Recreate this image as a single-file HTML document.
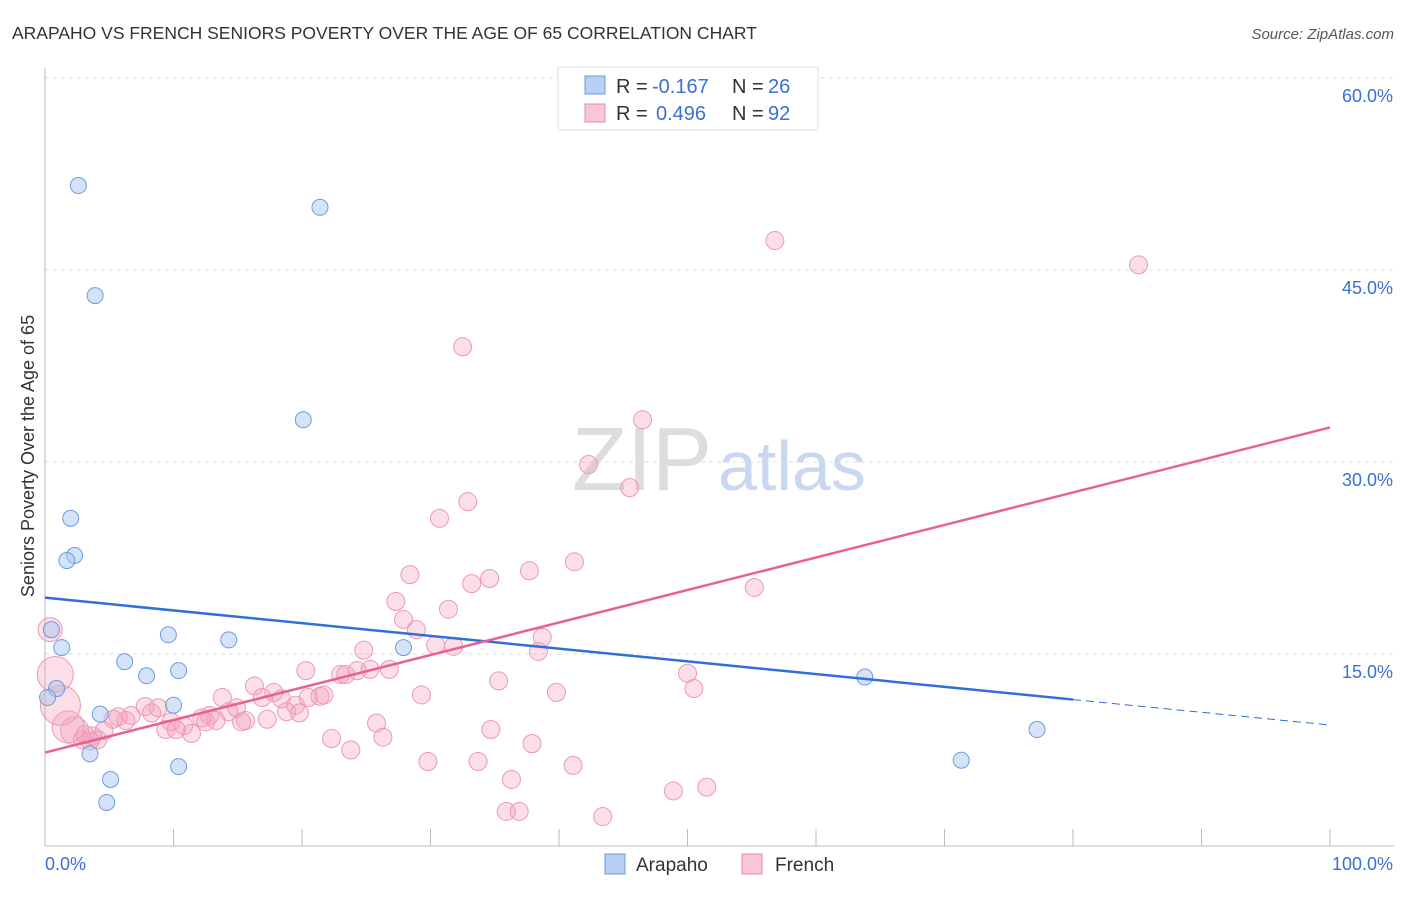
<!DOCTYPE html>
<html><head><meta charset="utf-8"><style>
body{margin:0;background:#fff;font-family:"Liberation Sans",sans-serif;}
svg text{font-family:"Liberation Sans",sans-serif;}
</style></head><body>
<svg id="chart" width="1406" height="892" xmlns="http://www.w3.org/2000/svg">
<text x="12" y="39" font-size="17.5" fill="#333">ARAPAHO VS FRENCH SENIORS POVERTY OVER THE AGE OF 65 CORRELATION CHART</text>
<text x="1394" y="39" font-size="15" fill="#555" text-anchor="end" font-style="italic">Source: ZipAtlas.com</text>
<text x="712" y="490" font-size="90" fill="#ddd" text-anchor="end" font-family="Liberation Serif">ZIP</text>
<text x="718" y="490" font-size="70" fill="#c8d8f0">atlas</text>
<g id="grid"></g><g id="axes"></g><g id="pts"></g><g id="lines"></g>
<text transform="translate(34,456) rotate(-90)" font-size="18" fill="#333" text-anchor="middle">Seniors Poverty Over the Age of 65</text>
<g>
<rect x="558" y="67" width="260" height="63" fill="#fff" stroke="#ddd"/>
<rect x="585" y="76" width="20" height="18" fill="#b7d0f3" stroke="#6e9be0"/>
<rect x="585" y="104" width="20" height="18" fill="#f8c6d6" stroke="#e98aa8"/>
<text x="616" y="93" font-size="20" fill="#333">R =</text>
<text x="652" y="93" font-size="20" fill="#3a6fd8">-0.167</text>
<text x="732" y="93" font-size="20" fill="#333">N =</text>
<text x="768" y="93" font-size="20" fill="#3a6fd8">26</text>
<text x="616" y="120" font-size="20" fill="#333">R =</text>
<text x="656" y="120" font-size="20" fill="#3a6fd8">0.496</text>
<text x="732" y="120" font-size="20" fill="#333">N =</text>
<text x="768" y="120" font-size="20" fill="#3a6fd8">92</text>
</g>
<g>
<rect x="605" y="854" width="20" height="20" fill="#b7d0f3" stroke="#6e9be0"/>
<text x="636" y="871" font-size="19" fill="#333">Arapaho</text>
<rect x="742" y="854" width="20" height="20" fill="#f8c6d6" stroke="#e98aa8"/>
<text x="775" y="871" font-size="19" fill="#333">French</text>
</g>
</svg>
<script>
const yTicks=[15,30,45,60];
const yTickLabels=["15.0%","30.0%","45.0%","60.0%"];
const xTickVals=[0,10,20,30,40,50,60,70,80,90,100];
const arapahoX=[2.6,21.4,3.9,20.1,2.0,2.3,1.7,0.5,1.3,9.6,14.3,6.2,7.9,10.4,27.9,0.9,0.2,4.3,10.0,3.5,5.1,4.8,10.4,63.8,71.3,77.2];
const arapahoY=[51.6,49.9,43.0,33.3,25.6,22.7,22.3,16.9,15.5,16.5,16.1,14.4,13.3,13.7,15.5,12.3,11.6,10.3,11.0,7.2,5.2,3.4,6.2,13.2,6.7,9.1];
const frenchPx=[[775,241],[1138,265],[463,347],[642,420],[589,464],[630,488],[468,502],[439,518],[574,562],[529,571],[410,575],[489,578],[472,584],[448,609],[396,602],[754,588],[403,620],[416,630],[435,645],[542,637],[453,646],[538,652],[364,650],[306,671],[340,675],[346,675],[357,671],[370,669],[389,669],[498,681],[688,673],[694,689],[556,693],[422,695],[255,686],[274,693],[262,697],[282,699],[295,705],[309,697],[320,696],[324,695],[222,697],[236,708],[210,715],[202,718],[229,712],[287,711],[267,719],[300,713],[245,720],[241,722],[216,720],[206,722],[158,708],[145,706],[131,716],[118,717],[126,721],[113,719],[152,713],[171,722],[184,726],[166,729],[191,733],[176,729],[104,731],[92,736],[82,740],[98,740],[75,731],[68,727],[60,705],[55,675],[50,630],[332,738],[351,750],[376,723],[383,737],[491,730],[532,743],[428,762],[478,761],[512,779],[573,765],[506,811],[519,812],[603,816],[673,791],[707,787],[90,741],[85,735]];
const frenchX=frenchPx.map(p=>+((p[0]-45)/12.85).toFixed(1));
const frenchY=frenchPx.map(p=>+((846-p[1])/12.8).toFixed(1));
const frenchSize=frenchX.map((x,i)=>i==72?20:i==73?18:i==71?16:i==70?14:i==74?12:9);
const blueFit=[19.4,9.45];
const pinkFit=[7.3,32.7];
const X=v=>45+v*12.85, Y=v=>846-v*12.8;
const NS="http://www.w3.org/2000/svg";
function mk(p,t,a){const e=document.createElementNS(NS,t);for(const k in a)e.setAttribute(k,a[k]);document.getElementById(p).appendChild(e);return e;}
yTicks.forEach((t,i)=>{
 const l=mk('grid','line',{x1:45,x2:1394,y1:Y(t),y2:Y(t),stroke:'#ddd','stroke-dasharray':'4,4'});
 
 
 const tx=mk('grid','text',{x:1393,y:Y(t)+24,'font-size':18,fill:'#3a6fd8','text-anchor':'end'});
 tx.textContent=yTickLabels[i];
 
 
});
let ax=mk('axes','line',{x1:45,x2:45,y1:68,y2:846,stroke:'#bbb'});


ax=mk('axes','line',{x1:45,x2:1394,y1:846,y2:846,stroke:'#bbb'});


xTickVals.forEach(v=>{const t=mk('axes','line',{x1:X(v),x2:X(v),y1:829,y2:846,stroke:'#bbb'});
 
 });
let xl=mk('axes','text',{x:45,y:870,'font-size':18,fill:'#3a6fd8'});xl.textContent='0.0%';


xl=mk('axes','text',{x:1393,y:870,'font-size':18,fill:'#3a6fd8','text-anchor':'end'});xl.textContent='100.0%';


frenchX.forEach((x,i)=>{const c=mk('pts','circle',{cx:X(x),cy:Y(frenchY[i]),r:frenchSize[i],fill:'rgba(244,160,188,0.35)',stroke:'#eb9ab4','stroke-width':1});
 
 });
arapahoX.forEach((x,i)=>{const c=mk('pts','circle',{cx:X(x),cy:Y(arapahoY[i]),r:8,fill:'rgba(170,200,240,0.5)',stroke:'#6e9be0','stroke-width':1});
 
 });
const bAt=x=>blueFit[0]+(blueFit[1]-blueFit[0])*x/100;
let ln=mk('lines','line',{x1:X(0),y1:Y(bAt(0)),x2:X(80),y2:Y(bAt(80)),stroke:'#2f6fd6','stroke-width':2.5});


ln=mk('lines','line',{x1:X(80),y1:Y(bAt(80)),x2:X(100),y2:Y(bAt(100)),stroke:'#2f6fd6','stroke-width':1,'stroke-dasharray':'8,5'});


ln=mk('lines','line',{x1:X(0),y1:Y(pinkFit[0]),x2:X(100),y2:Y(pinkFit[1]),stroke:'#e8628e','stroke-width':2.5});


</script>
</body></html>
